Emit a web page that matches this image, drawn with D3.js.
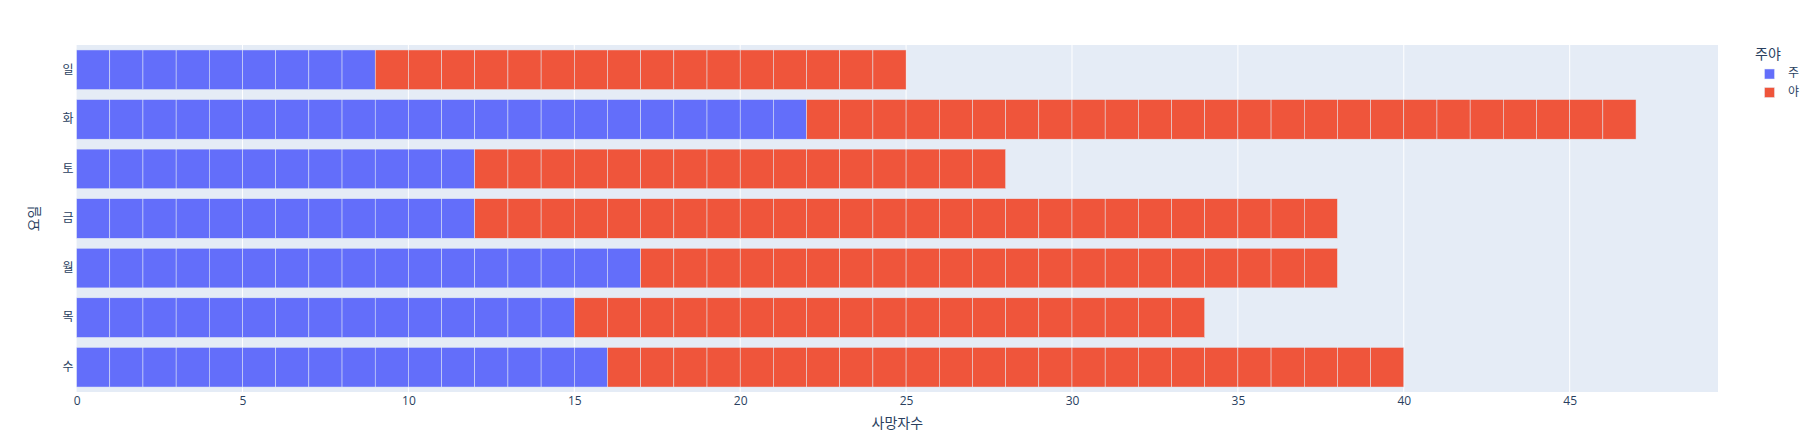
<!DOCTYPE html>
<html>
<head>
<meta charset="utf-8">
<script src="https://cdn.jsdelivr.net/npm/d3@7"></script>
<style>
  html, body { margin: 0; padding: 0; background: #fff; }
  svg text { font-family: "Open Sans", "Noto Sans CJK KR", sans-serif; fill: #2a3f5f; }
</style>
</head>
<body>
<svg id="chart" width="1811" height="441"></svg>
<script>
// Data (categories bottom to top as in plotly)
const days = ["수", "목", "월", "금", "토", "화", "일"];
const dayVals = [16, 15, 17, 12, 12, 22, 9];     // 주
const nightVals = [24, 19, 21, 26, 16, 25, 16];  // 야
const seriesNames = ["주", "야"];
const seriesColors = ["#636efa", "#EF553B"];
const xTicks = [0, 5, 10, 15, 20, 25, 30, 35, 40, 45];
const xTitle = "사망자수";
const yTitle = "요일";
const legendTitle = "주야";

const svg = d3.select("#chart");
const L = 76.6, R = 1718, T = 45, B = 392;

const x = d3.scaleLinear().domain([0, 49.47]).range([L, R]);
const y = d3.scaleBand().domain(days.slice().reverse()).range([T, B]).paddingInner(0.2).paddingOuter(0.1);

svg.append("rect").attr("x", L).attr("y", T).attr("width", R - L).attr("height", B - T).attr("fill", "#E5ECF6");

// gridlines
svg.append("g").selectAll("line").data(xTicks.filter(d => d > 0)).join("line")
  .attr("x1", d => x(d)).attr("x2", d => x(d)).attr("y1", T).attr("y2", B)
  .attr("stroke", "#fff").attr("stroke-width", 1);

// unit segments
const segs = [];
days.forEach((d, i) => {
  const vals = [dayVals[i], nightVals[i]];
  let acc = 0;
  vals.forEach((v, s) => {
    for (let k = 0; k < v; k++) { segs.push({day: d, s, x0: acc, x1: acc + 1}); acc++; }
  });
});
svg.append("g").selectAll("rect").data(segs).join("rect")
  .attr("x", d => x(d.x0)).attr("width", d => x(d.x1) - x(d.x0))
  .attr("y", d => y(d.day)).attr("height", y.bandwidth())
  .attr("fill", d => seriesColors[d.s])
  .attr("stroke", "#E5ECF6").attr("stroke-width", 0.5);

// x axis
const xa = d3.axisBottom(x).tickValues(xTicks).tickSize(0).tickPadding(0);
const gx = svg.append("g").attr("transform", `translate(0,${B})`).call(xa);
gx.select(".domain").remove();
gx.selectAll("text").attr("font-size", 12).attr("dy", null).attr("y", 10).attr("dominant-baseline", "middle").style("fill", "#2a3f5f");

// y axis
const ya = d3.axisLeft(y).tickSize(0).tickPadding(3);
const gy = svg.append("g").attr("transform", `translate(${L},0)`).call(ya);
gy.select(".domain").remove();
gy.selectAll("text").attr("font-size", 12).style("fill", "#2a3f5f");

// titles
svg.append("text").attr("x", (L + R) / 2).attr("y", 424).attr("text-anchor", "middle")
  .attr("dominant-baseline", "middle").attr("font-size", 14).text(xTitle);
svg.append("text").attr("transform", `translate(35,${(T + B) / 2}) rotate(-90)`).attr("text-anchor", "middle")
  .attr("dominant-baseline", "middle").attr("font-size", 14).text(yTitle);

// legend
const lg = svg.append("g");
lg.append("text").attr("x", 1755).attr("y", 55).attr("dominant-baseline", "middle").attr("font-size", 14).text(legendTitle);
seriesNames.forEach((n, i) => {
  const cy = 74 + i * 18.5;
  lg.append("rect").attr("x", 1764.5).attr("y", cy - 5).attr("width", 10).attr("height", 10)
    .attr("fill", seriesColors[i]).attr("stroke", "#E5ECF6").attr("stroke-width", 0.5);
  lg.append("text").attr("x", 1788).attr("y", cy).attr("dominant-baseline", "middle").attr("font-size", 12).text(n);
});
</script>
</body>
</html>
